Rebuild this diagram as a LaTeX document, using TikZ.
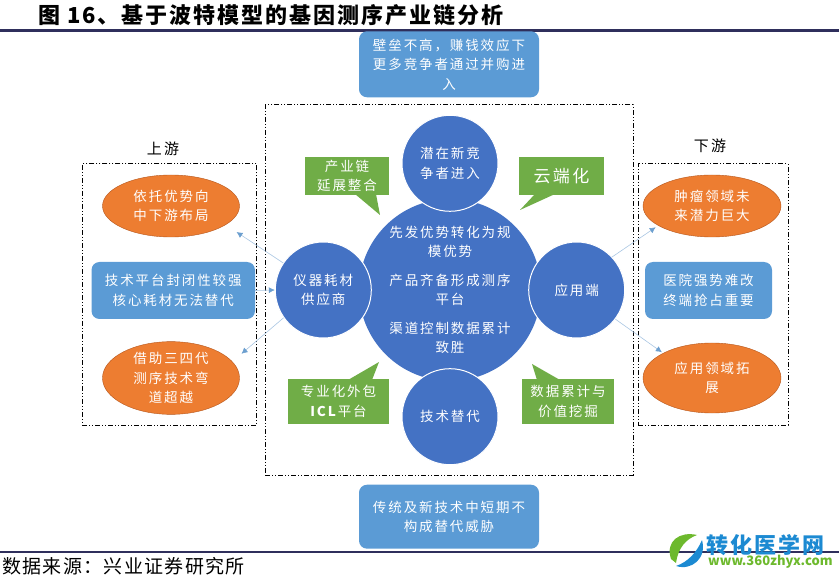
\documentclass[tikz,border=0pt]{standalone}
\usepackage{fontspec}
\newfontfamily\cjk[LetterSpace=14]{Noto Sans CJK SC}
\newfontfamily\cjkhead[LetterSpace=9]{Noto Sans CJK SC}
\newfontfamily\cjkfoot[LetterSpace=7]{Noto Sans CJK SC}
\newfontfamily\logosans{Noto Sans CJK SC}
\usepackage{xcolor}
\definecolor{rptnavy}{HTML}{2F2F5C}
\definecolor{rptblue}{HTML}{4472C4}
\definecolor{rptsky}{HTML}{5B9BD5}
\definecolor{rptorange}{HTML}{ED7D31}
\definecolor{rptrust}{HTML}{B5561C}
\definecolor{rptgreen}{HTML}{70AD47}
\definecolor{rptline}{HTML}{A9C6E2}
\definecolor{rpttip}{HTML}{6C9FCF}
\definecolor{logoblue}{HTML}{1C8AD2}
\definecolor{logogreen}{HTML}{6DB92D}
\usetikzlibrary{arrows.meta,positioning,shapes.geometric}
\begin{document}
\begin{tikzpicture}[x=1pt,y=-1pt,>=Latex]
\tikzset{
 wt/.style={text=white,align=center,font=\fontsize{13.5}{19.5}\cjk},
 rnd/.style={wt,fill=rptsky,rounded corners=8pt,inner sep=0pt},
 oval/.style={wt,ellipse,fill=rptorange,draw=rptrust,inner sep=0pt},
 disc/.style={wt,circle,fill=rptblue,draw=white,line width=1pt,inner sep=0pt,minimum size=96pt},
 tag/.style={wt,fill=rptgreen,inner sep=0pt},
 tail/.style={fill=rptgreen},
 frame/.style={draw=black,line width=1pt,dash pattern=on 5pt off 2pt on 1pt off 2pt on 1pt off 2pt,inner sep=0pt},
 side/.style={font=\fontsize{15}{18}\cjk},
 a/.style={-{Latex[length=6pt,width=6pt,color=rpttip]},draw=rptline,line width=.6pt}
}
\useasboundingbox (0,0) rectangle (839,580);
% title and rules
\node[anchor=west,inner sep=0pt,font=\fontsize{22}{24}\cjkhead\bfseries] (title) at (38,15) {图 16、基于波特模型的基因测序产业链分析};
\coordinate (rule1a) at (0,31);
\coordinate (rule1b) at (839,31);
\coordinate (rule2a) at (0,552);
\coordinate (rule2b) at (839,552);
\draw[rptnavy,line width=3pt] (rule1a)--(rule1b);
\draw[rptnavy,line width=2pt] (rule2a)--(rule2b);
\node[anchor=west,inner sep=0pt,font=\fontsize{19}{22}\cjkfoot] (source) at (2,566) {数据来源：兴业证券研究所};
% frames
\node[frame,minimum width=368pt,minimum height=370pt] (core) at (449,290) {};
\node[frame,minimum width=174.5pt,minimum height=261pt] (upbox) at (169.5,294.5) {};
\node[frame,minimum width=150pt,minimum height=261pt] (downbox) at (713,294.5) {};
\node[side] (uplabel) at (163,149) {上游};
\node[side] (downlabel) at (710,146) {下游};
% five forces
\node[rnd,minimum width=180pt,minimum height=66pt,above=7pt of core] (entry) {壁垒不高，赚钱效应下\\更多竞争者通过并购进\\入};
\node[rnd,minimum width=180pt,minimum height=64pt,below=9pt of core] (subst) {传统及新技术中短期不\\构成替代威胁};
\node[wt,circle,fill=rptblue,inner sep=0pt,minimum size=182pt] (hub) at (450,290) {先发优势转化为规\\模优势\\[9pt]产品齐备形成测序\\平台\\[9pt]渠道控制数据累计\\致胜};
\node[disc,above=-13pt of hub] (rival) {潜在新竞\\争者进入};
\node[disc,below=-13pt of hub] (tech) {技术替代};
\node[disc,left=-13pt of hub] (sup) {仪器耗材\\供应商};
\node[disc,right=-13pt of hub] (app) {应用端};
% green notes
\fill[tail] (355,194) -- (380,215) -- (376,194) -- cycle;
\fill[tail] (535,194) -- (520,210) -- (555,194) -- cycle;
\fill[tail] (348,380) -- (379,362) -- (372,380) -- cycle;
\fill[tail] (537,380) -- (532,364) -- (560,380) -- cycle;
\node[tag,minimum width=84pt,minimum height=38pt] (chain) at (347,176) {产业链\\延展整合};
\node[tag,minimum width=85pt,minimum height=38pt,font=\fontsize{17}{20}\cjk] (cloud) at (561.5,176) {云端化};
\node[tag,minimum width=101pt,minimum height=45pt] (icl) at (338.5,401.5) {专业化外包\\\textbf{ICL}平台};
\node[tag,minimum width=92pt,minimum height=45pt] (mine) at (568,401.5) {数据累计与\\价值挖掘};
% upstream
\node[oval,minimum width=137pt,minimum height=62pt] (up1) at (171,206) {依托优势向\\中下游布局};
\node[rnd,minimum width=163.5pt,minimum height=57pt] (plat) at (173.25,290.5) {技术平台封闭性较强\\核心耗材无法替代};
\node[oval,minimum width=137pt,minimum height=70pt] (up3) at (171,378) {借助三四代\\测序技术弯\\道超越};
% downstream
\node[oval,minimum width=138pt,minimum height=62pt] (dn1) at (712,206) {肿瘤领域未\\来潜力巨大};
\node[rnd,minimum width=127pt,minimum height=57pt] (hosp) at (708.5,290.5) {医院强势难改\\终端抢占重要};
\node[oval,minimum width=138pt,minimum height=70pt] (dn3) at (712,378) {应用领域拓\\展};
% links
\draw[a,shorten >=13pt] (sup.146)--(up1.-19);
\draw[a,shorten >=12pt] (sup.215)--(up3.15);
\draw[a] (plat.east)--(sup.west);
\draw[a,shorten >=3pt] (app.43)--(dn1.200);
\draw[a,shorten >=1.5pt] (app.-37)--(dn3.153);
% site mark
\fill[logogreen] (671,559) .. controls (665,541) and (680,531) .. (697,535) .. controls (686,539) and (678,548) .. (676,563) -- cycle;
\fill[logoblue] (702,540) .. controls (707,558) and (692,571) .. (676,566) .. controls (688,562) and (697,552) .. (702,540) -- cycle;
\node[anchor=west,inner sep=0pt,text=logoblue,font=\fontsize{22}{25}\cjkhead\bfseries] (logotext) at (706,545) {转化医学网};
\node[anchor=west,inner sep=0pt,text=logogreen,font=\fontsize{13}{14}\logosans\bfseries] (logourl) at (708,562) {www.360zhyx.com};
\end{tikzpicture}
\end{document}
